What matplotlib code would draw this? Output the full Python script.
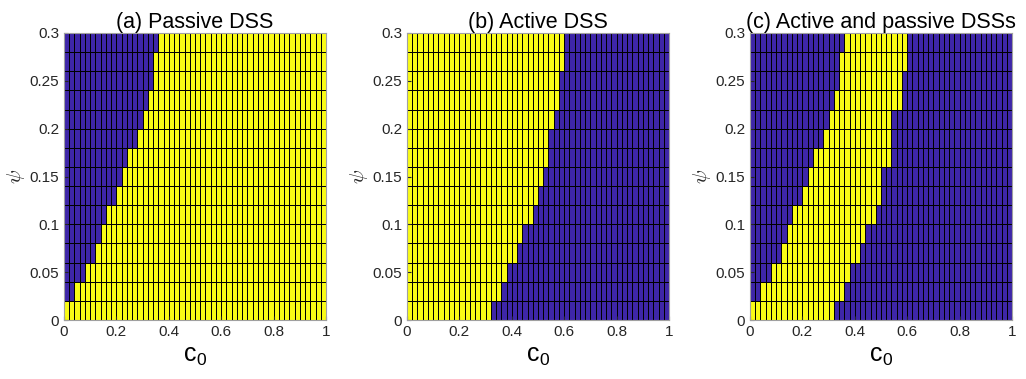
import numpy as np
import matplotlib
matplotlib.use('Agg')
import matplotlib.pyplot as plt
from matplotlib.colors import ListedColormap

plt.rcParams['font.family'] = ['Liberation Sans', 'DejaVu Sans']
plt.rcParams['mathtext.fontset'] = 'cm'

# grid of the parameter sweep
c0 = np.linspace(0, 1, 51)      # cell edges along c0
psi = np.linspace(0, 0.3, 16)   # cell edges along psi

# number of c0 cells (from the left) in each psi row, bottom to top
passive_edge = [0, 2, 4, 6, 7, 8, 10, 11, 12, 14, 15, 16, 17, 17, 18]
active_edge = [16, 18, 19, 21, 22, 24, 25, 26, 27, 27, 28, 29, 29, 30, 30]
both_lo = [0, 2, 4, 6, 7, 8, 10, 11, 12, 14, 15, 16, 17, 17, 18]
both_hi = [16, 18, 19, 21, 22, 24, 25, 25, 27, 27, 27, 29, 29, 30, 30]

titles = ['(a) Passive DSS', '(b) Active DSS', '(c) Active and passive DSSs']

cols = np.arange(len(c0) - 1)
Z_a = (cols[None, :] >= np.array(passive_edge)[:, None]).astype(float)
Z_b = (cols[None, :] < np.array(active_edge)[:, None]).astype(float)
Z_c = ((cols[None, :] >= np.array(both_lo)[:, None]) &
       (cols[None, :] < np.array(both_hi)[:, None])).astype(float)

cmap = ListedColormap(['#3E26A8', '#F9FB15'])

fig = plt.figure(figsize=(10.26, 3.79), dpi=100)
lefts = [64, 407, 750]
for i, Z in enumerate([Z_a, Z_b, Z_c]):
    ax = fig.add_axes([lefts[i] / 1026, 1 - 320 / 379, 262 / 1026, 287 / 379])
    ax.pcolormesh(c0, psi, Z, cmap=cmap, vmin=0, vmax=1,
                  edgecolors='k', linewidth=0.5)
    ax.set_xlim(0, 1)
    ax.set_ylim(0, 0.3)
    ax.set_xticks([0, 0.2, 0.4, 0.6, 0.8, 1])
    ax.set_xticklabels(['0', '0.2', '0.4', '0.6', '0.8', '1'])
    ax.set_yticks([0, 0.05, 0.1, 0.15, 0.2, 0.25, 0.3])
    ax.set_yticklabels(['0', '0.05', '0.1', '0.15', '0.2', '0.25', '0.3'])
    ax.tick_params(direction='in', labelsize=11, colors='#262626', length=3)
    for s in ax.spines.values():
        s.set_color('#a0a0a0')
        s.set_linewidth(0.8)
    ax.set_title(titles[i], fontsize=15.5, pad=2)
    ax.set_xlabel(r'c$_\mathregular{0}$', fontsize=18, labelpad=4)
    ax.set_ylabel(r'$\psi$', fontsize=15, labelpad=2, color='#262626')

fig.savefig('out.png', dpi=100)
